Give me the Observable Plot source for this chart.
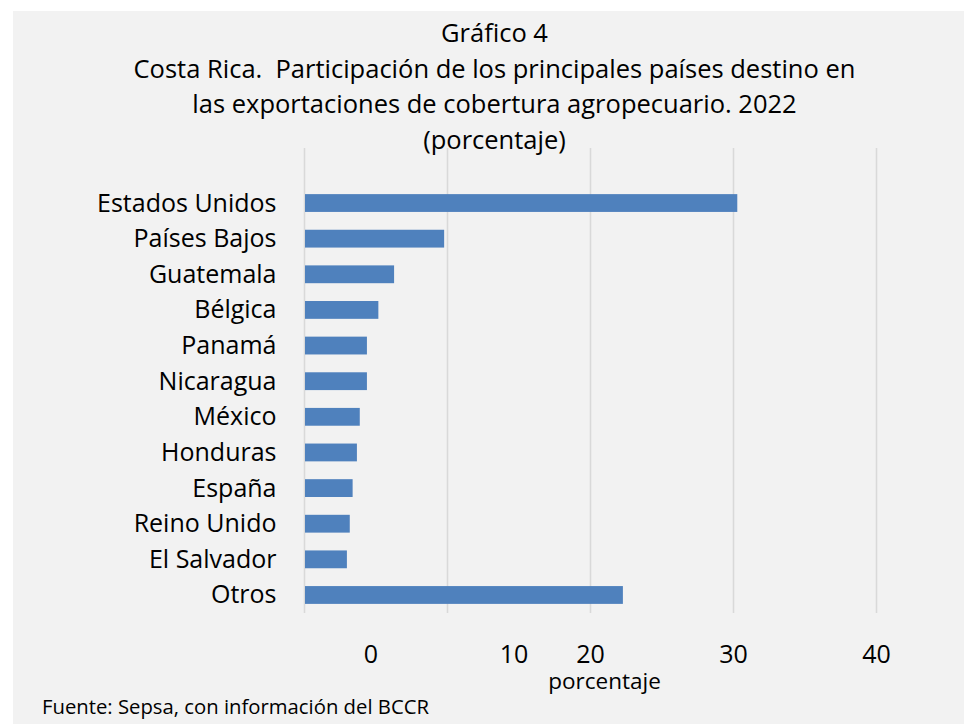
<!DOCTYPE html>
<html>
<head>
<meta charset="utf-8">
<script src="https://cdn.jsdelivr.net/npm/d3@7"></script>
<script src="https://cdn.jsdelivr.net/npm/@observablehq/plot@0.6"></script>
<style>
  html, body { margin: 0; padding: 0; background: #ffffff; overflow: hidden; }
  #page { position: relative; width: 964px; height: 724px; font-family: "Open Sans", sans-serif; color: #000; }
  #panel { position: absolute; left: 13px; top: 11px; width: 951px; height: 713px; background: #f2f2f2; }
  #title { position: absolute; left: 25px; width: 939px; top: 15px; text-align: center; font-size: 25.5px; line-height: 35.5px; white-space: pre; }
  #chart { position: absolute; left: 0; top: 148px; }
  #source { position: absolute; left: 42px; top: 691px; font-size: 20.3px; line-height: 30px; white-space: nowrap; }
</style>
</head>
<body>
<div id="page">
  <div id="panel"></div>
  <div id="title"></div>
  <div id="chart"></div>
  <div id="source"></div>
</div>
<script>
// ---- data ----
const titleLines = [
  "Gráfico 4",
  "Costa Rica.  Participación de los principales países destino en",
  "las exportaciones de cobertura agropecuario. 2022",
  "(porcentaje)"
];
const countries = ["Estados Unidos", "Países Bajos", "Guatemala", "Bélgica", "Panamá", "Nicaragua",
                   "México", "Honduras", "España", "Reino Unido", "El Salvador", "Otros"];
const shares = [30.3, 9.8, 6.3, 5.2, 4.4, 4.4, 3.9, 3.7, 3.4, 3.2, 3.0, 22.3];
const tickValues = [0, 10, 20, 30, 40];
const tickLabels = ["0", "10", "20", "30", "40"];
const tickLabelAt = [4.65, 14.65, 20, 30, 40];   // where the reference prints each label
const axisTitle = "porcentaje";
const sourceNote = "Fuente: Sepsa, con información del BCCR";

const titleEl = document.getElementById("title");
titleLines.forEach(t => { const d = document.createElement("div"); d.textContent = t; titleEl.appendChild(d); });
document.getElementById("source").textContent = sourceNote;

const rows = countries.map((c, i) => ({country: c, value: shares[i]}));
const labelRows = tickLabels.map((t, i) => ({label: t, at: tickLabelAt[i]}));

const chart = Plot.plot({
  width: 964,
  height: 552,
  marginLeft: 304,
  marginRight: 88,
  marginTop: 0,
  marginBottom: 87,
  style: {background: "transparent", fontFamily: "Open Sans, sans-serif", color: "#000"},
  x: {domain: [0, 40], axis: null},
  y: {domain: countries, paddingInner: 0.5, paddingOuter: 0.775, align: 0.835, round: false, label: null},
  marks: [
    Plot.gridX(tickValues, {stroke: "#d9d9d9", strokeOpacity: 1, strokeWidth: 1.6}),
    Plot.barX(rows, {x: "value", y: "country", fill: "#4f81bd", insetLeft: 1}),
    Plot.axisY({tickSize: 0, tickPadding: 28, fontSize: 25, fill: "#000", label: null}),
    Plot.text(labelRows, {x: "at", text: "label", frameAnchor: "bottom", dy: 41,
                          lineAnchor: "middle", fontSize: 25, fill: "#000"}),
    Plot.text([axisTitle], {text: d => d, frameAnchor: "bottom", dx: 14, dy: 68,
                            lineAnchor: "middle", fontSize: 22.5, fill: "#000"})
  ]
});
document.getElementById("chart").appendChild(chart);
</script>
</body>
</html>
